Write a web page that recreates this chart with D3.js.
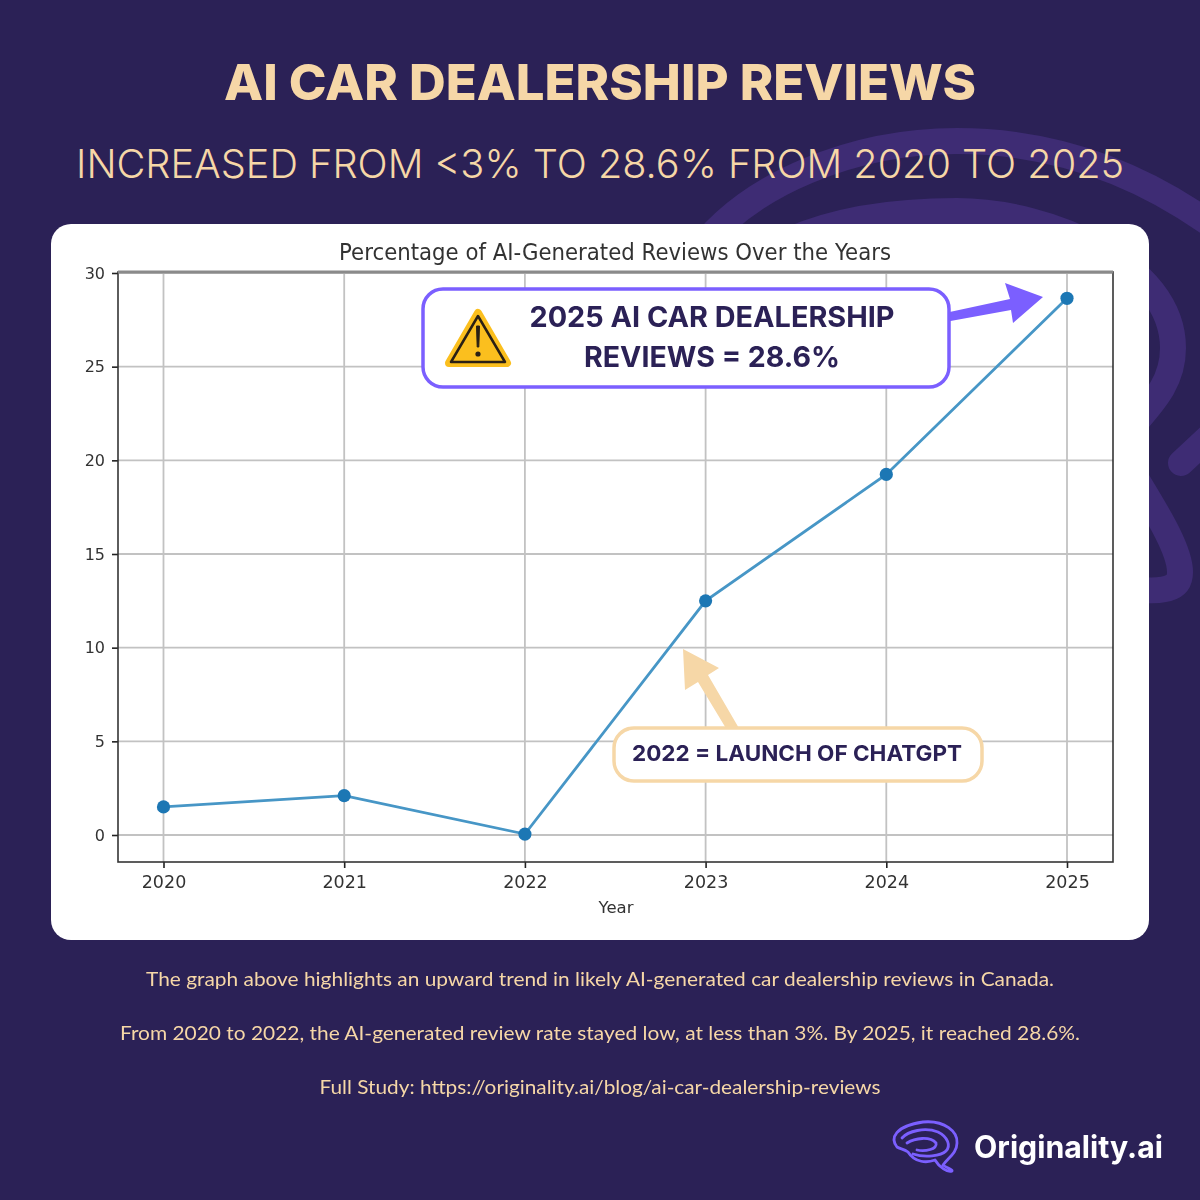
<!DOCTYPE html>
<html>
<head>
<meta charset="utf-8">
<script src="https://cdn.jsdelivr.net/npm/d3@7"></script>
<style>
  html, body { margin: 0; padding: 0; background: #2b2156; }
  svg { display: block; }
</style>
</head>
<body>
<div id="chart"></div>
<script>
// Chart data
var years = [2020, 2021, 2022, 2023, 2024, 2025];
var aiShare = [1.5, 2.1, 0.05, 12.5, 19.25, 28.65];
var yTicks = [0, 5, 10, 15, 20, 25, 30];

// Text
var mainTitle = "AI CAR DEALERSHIP REVIEWS";
var subTitle = "INCREASED FROM <3% TO 28.6% FROM 2020 TO 2025";
var chartTitle = "Percentage of AI-Generated Reviews Over the Years";
var xLabel = "Year";
var notes = [
  "The graph above highlights an upward trend in likely AI-generated car dealership reviews in Canada.",
  "From 2020 to 2022, the AI-generated review rate stayed low, at less than 3%. By 2025, it reached 28.6%.",
  "Full Study: https://originality.ai/blog/ai-car-dealership-reviews"
];
var calloutTop = ["2025 AI CAR DEALERSHIP", "REVIEWS = 28.6%"];
var calloutBottom = "2022 = LAUNCH OF CHATGPT";

var navy = "#2b2156", cream = "#f6d7a7", violet = "#7b5fff", swirl = "#3e2c74";
var headFont = "Inter, Lato, sans-serif";
var bodyFont = "Lato, 'Noto Sans', sans-serif";

// Set up the page
var svg = d3.select("#chart").append("svg").attr("width", 1200).attr("height", 1200);
svg.append("rect").attr("width", 1200).attr("height", 1200).attr("fill", navy);

// Background brain swirl
var swirlPaths = [
  "M 690 262 C 745 180 860 141 957 141 C 1050 141 1140 170 1225 235",
  "M 790 240 C 840 218 900 211 957 211 C 1050 211 1173 265 1173 348 C 1173 385 1150 405 1125 435",
  "M 1125 460 C 1145 495 1180 545 1180 572 C 1180 590 1165 592 1125 590",
  "M 1181 463 L 1225 422"
];
svg.selectAll("path.swirl").data(swirlPaths).enter().append("path")
  .attr("class", "swirl")
  .attr("d", d => d)
  .attr("fill", "none")
  .attr("stroke", swirl)
  .attr("stroke-width", 26)
  .attr("stroke-linecap", "round");

// Headings
svg.append("text").text(mainTitle)
  .attr("x", 600).attr("y", 100).attr("text-anchor", "middle")
  .attr("font-family", headFont).attr("font-weight", 800).attr("font-size", 50)
  .attr("textLength", 752).attr("lengthAdjust", "spacingAndGlyphs")
  .attr("fill", cream);
svg.append("text").text(subTitle)
  .attr("x", 600).attr("y", 178).attr("text-anchor", "middle")
  .attr("font-family", headFont).attr("font-weight", 300).attr("font-size", 40)
  .attr("textLength", 1048).attr("lengthAdjust", "spacingAndGlyphs")
  .attr("fill", cream);

// White card
svg.append("rect")
  .attr("x", 51).attr("y", 224).attr("width", 1098).attr("height", 716).attr("rx", 20)
  .attr("fill", "#fff");

// Soft filter, the original plot is an enlarged raster
var defs = svg.append("defs");
defs.append("filter").attr("id", "soft")
  .append("feGaussianBlur").attr("stdDeviation", 0.55);

// Scales
var xScale = d3.scaleLinear().domain([2020, 2025]).range([163.5, 1067]);
var yScale = d3.scaleLinear().domain([0, 30]).range([835, 273]);
var plotLeft = 118, plotRight = 1113, plotTop = 272, plotBottom = 862;

var plot = svg.append("g").attr("filter", "url(#soft)");

// Grid
plot.selectAll("line.gx").data(years).enter().append("line")
  .attr("x1", d => xScale(d)).attr("x2", d => xScale(d))
  .attr("y1", plotTop).attr("y2", plotBottom)
  .attr("stroke", "#c2c2c2").attr("stroke-width", 1.8);
plot.selectAll("line.gy").data(yTicks).enter().append("line")
  .attr("x1", plotLeft).attr("x2", plotRight)
  .attr("y1", d => yScale(d)).attr("y2", d => yScale(d))
  .attr("stroke", "#c2c2c2").attr("stroke-width", 1.8);

// Axes
var bottomAxis = d3.axisBottom(xScale).tickValues(years).tickFormat(d3.format("d")).tickSize(6).tickPadding(8);
var leftAxis = d3.axisLeft(yScale).tickValues(yTicks).tickSize(6).tickPadding(7);

var xAxisGroup = plot.append("g").attr("transform", `translate(0, ${plotBottom})`).call(bottomAxis);
var yAxisGroup = plot.append("g").attr("transform", `translate(${plotLeft}, 0)`).call(leftAxis);
[xAxisGroup, yAxisGroup].forEach(function(g) {
  g.select(".domain").remove();
  g.selectAll("line").attr("stroke", "#222").attr("stroke-width", 1.6);
  g.selectAll("text").attr("font-family", "'DejaVu Sans'").attr("fill", "#333");
});
xAxisGroup.selectAll("text").attr("font-size", 17.5);
yAxisGroup.selectAll("text").attr("font-size", 16);

// Box around the plot
plot.append("rect")
  .attr("x", plotLeft).attr("y", plotTop)
  .attr("width", plotRight - plotLeft).attr("height", plotBottom - plotTop)
  .attr("fill", "none").attr("stroke", "#333").attr("stroke-width", 1.6);
plot.append("line")
  .attr("x1", plotLeft).attr("x2", plotRight).attr("y1", plotTop).attr("y2", plotTop)
  .attr("stroke", "#8a8a8a").attr("stroke-width", 3);

// Line and points
var lineGen = d3.line().x(d => xScale(d.year)).y(d => yScale(d.value));
var series = years.map((y, i) => ({ year: y, value: aiShare[i] }));
plot.append("path").datum(series)
  .attr("d", lineGen)
  .attr("fill", "none").attr("stroke", "#4696c6").attr("stroke-width", 2.8);
plot.selectAll("circle").data(series).enter().append("circle")
  .attr("cx", d => xScale(d.year)).attr("cy", d => yScale(d.value)).attr("r", 6.6)
  .attr("fill", "#1f77b4");

// Chart labels
plot.append("text").text(chartTitle)
  .attr("x", 615).attr("y", 260).attr("text-anchor", "middle")
  .attr("font-family", "'DejaVu Sans'").attr("font-size", 22.5)
  .attr("textLength", 552).attr("lengthAdjust", "spacingAndGlyphs")
  .attr("fill", "#333");
plot.append("text").text(xLabel)
  .attr("x", 616).attr("y", 913).attr("text-anchor", "middle")
  .attr("font-family", "'DejaVu Sans'").attr("font-size", 16.5)
  .attr("fill", "#333");

// Purple callout with arrow
svg.append("polygon")
  .attr("points", "945,313 1010,299 1005,283 1043,297 1013,323 1011,310 945,322")
  .attr("fill", violet);
svg.append("rect")
  .attr("x", 423).attr("y", 289).attr("width", 526).attr("height", 98).attr("rx", 20)
  .attr("fill", "#fff").attr("stroke", violet).attr("stroke-width", 3.5);
svg.selectAll("text.topNote").data(calloutTop).enter().append("text")
  .attr("class", "topNote")
  .text(d => d)
  .attr("x", 712).attr("y", (d, i) => 327 + i * 40).attr("text-anchor", "middle")
  .attr("font-family", headFont).attr("font-weight", 700).attr("font-size", 29)
  .attr("textLength", (d, i) => i === 0 ? 365 : 256).attr("lengthAdjust", "spacingAndGlyphs")
  .attr("fill", navy);

// Warning sign
svg.append("path")
  .attr("d", "M 478 313 L 507 363 L 449 363 Z")
  .attr("fill", "#fbbf1e").attr("stroke", "#fbbf1e").attr("stroke-width", 8).attr("stroke-linejoin", "round");
svg.append("path")
  .attr("d", "M 478 316 L 505 362 L 451 362 Z")
  .attr("fill", "none").attr("stroke", "#2a2014").attr("stroke-width", 2.5).attr("stroke-linejoin", "round");
svg.append("path")
  .attr("d", "M 476.5 326 L 479.5 326 L 478.8 347 L 477.2 347 Z")
  .attr("fill", "#2a2014").attr("stroke", "#2a2014").attr("stroke-width", 1);
svg.append("circle").attr("cx", 478).attr("cy", 354).attr("r", 2.6).attr("fill", "#2a2014");

// Cream callout with arrow
svg.append("polygon")
  .attr("points", "727,730 698,682 685,690 683,649 719,668 708,675 740,730")
  .attr("fill", cream);
svg.append("rect")
  .attr("x", 614).attr("y", 728).attr("width", 368).attr("height", 53).attr("rx", 20)
  .attr("fill", "#fff").attr("stroke", cream).attr("stroke-width", 3.5);
svg.append("text").text(calloutBottom)
  .attr("x", 797).attr("y", 761).attr("text-anchor", "middle")
  .attr("font-family", headFont).attr("font-weight", 700).attr("font-size", 22)
  .attr("textLength", 330).attr("lengthAdjust", "spacingAndGlyphs")
  .attr("fill", navy);

// Notes under the card
svg.selectAll("text.note").data(notes).enter().append("text")
  .attr("class", "note")
  .text(d => d)
  .attr("x", 600).attr("y", (d, i) => 986 + i * 54).attr("text-anchor", "middle")
  .attr("font-family", bodyFont).attr("font-size", 20)
  .attr("textLength", (d, i) => [908, 960, 561][i]).attr("lengthAdjust", "spacingAndGlyphs")
  .attr("fill", cream);

// Logo
var logoPaths = [
  "M 897 1147 C 890 1138 895 1126 923 1122 C 945 1120 958 1132 957 1143 C 957 1153 948 1158 943 1165 C 947 1168 953 1170 952 1171 C 948 1173 939 1167 935 1160 C 927 1163 915 1163 908 1152 C 904 1149 900 1149 897 1147",
  "M 902 1138 C 908 1131 925 1127 938 1132 C 948 1137 951 1146 946 1151 C 941 1156 925 1158 913 1154",
  "M 907 1143 C 915 1138 930 1136 936 1143 C 938 1149 925 1152 917 1150"
];
svg.selectAll("path.logo").data(logoPaths).enter().append("path")
  .attr("class", "logo")
  .attr("d", d => d)
  .attr("fill", "none").attr("stroke", violet).attr("stroke-width", 2.8)
  .attr("stroke-linecap", "round").attr("stroke-linejoin", "round");
svg.append("text").text("Originality.ai")
  .attr("x", 974).attr("y", 1158)
  .attr("font-family", headFont).attr("font-weight", 700).attr("font-size", 31)
  .attr("textLength", 189).attr("lengthAdjust", "spacingAndGlyphs")
  .attr("fill", "#fff");
</script>
</body>
</html>
